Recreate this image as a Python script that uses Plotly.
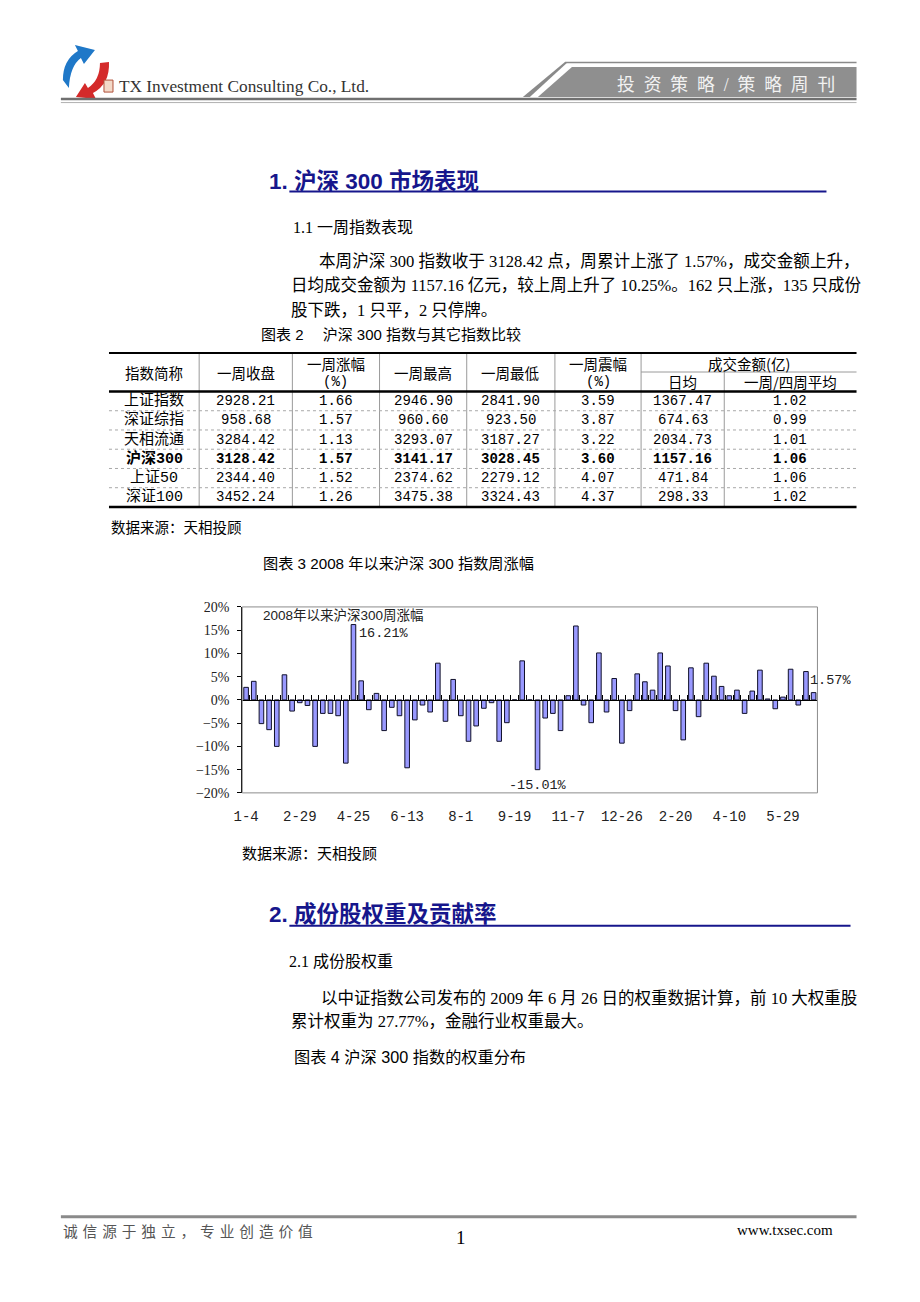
import plotly.graph_objects as go

# page 920x1302; browser body margin of 8px -> figure is 16px smaller
PAGE_W, PAGE_H = 920, 1302
OFF = 8
W, H = PAGE_W - 2 * OFF, PAGE_H - 2 * OFF
# measured mapping between page pixels and photographed pixels (photo = a*page + b)
AX, BX = 0.988, 10.3
AY, BY = 0.9886, 7.0

# ---------------- data ----------------
# weekly change of CSI 300 since 2008 (%)
weekly_chg = [2.7, 4.0, -5.1, -6.4, -10.0, 5.4, -2.4, -0.6, -1.2, -10.0,
              -2.9, -2.9, -3.4, -13.6, 16.21, 4.1, -2.1, 1.4, -6.6, -1.6,
              -3.4, -14.6, -4.3, -1.1, -2.6, 7.9, -4.6, 4.4, -3.4, -8.9,
              -5.6, -1.8, -0.6, -8.9, -4.9, 0.0, 8.4, 0.0, -15.01, -3.9,
              -2.9, -6.6, 0.9, 15.9, -1.1, -4.9, 10.1, -2.6, 4.6, -9.3,
              -2.3, 5.6, 3.9, 2.1, 10.1, 7.3, -2.3, -8.6, 6.9, -3.6,
              7.9, 5.1, 2.9, 0.9, 2.1, -2.9, 1.9, 6.4, 0.2, -1.9,
              0.6, 6.6, -1.1, 6.1, 1.57]
week_tick_labels = ['1-4', '2-29', '4-25', '6-13', '8-1', '9-19', '11-7',
                    '12-26', '2-20', '4-10', '5-29']
tick_every = 7
y_ticks = [20, 15, 10, 5, 0, -5, -10, -15, -20]

# comparison table
idx_names = ['上证指数', '深证综指', '天相流通', '沪深300', '上证50', '深证100']
wk_close = ['2928.21', '958.68', '3284.42', '3128.42', '2344.40', '3452.24']
wk_chg = ['1.66', '1.57', '1.13', '1.57', '1.52', '1.26']
wk_high = ['2946.90', '960.60', '3293.07', '3141.17', '2374.62', '3475.38']
wk_low = ['2841.90', '923.50', '3187.27', '3028.45', '2279.12', '3324.43']
wk_amp = ['3.59', '3.87', '3.22', '3.60', '4.07', '4.37']
amt_daily = ['1367.47', '674.63', '2034.73', '1157.16', '471.84', '298.33']
amt_ratio = ['1.02', '0.99', '1.01', '1.06', '1.06', '1.02']
bold_row = '沪深300'

# ---------------- helpers (target pixel -> paper) ----------------
def fx(p):
    return ((p - BX) / AX - OFF) / W

def fy(p):
    return 1 - ((p - BY) / AY - OFF) / H

CJK = 'Noto Sans CJK SC'
SERIF = 'Liberation Serif, ' + CJK
MONO = 'Liberation Mono, ' + CJK
SANS = 'Liberation Sans, ' + CJK
NAVY = '#16168c'

annotations = []
shapes = []

def txt(x, y, s, size=15, family=SERIF, color='#000000', anchor='left', bold=False):
    annotations.append(dict(x=x, y=y, xref='x2', yref='y2', text=s, showarrow=False,
                            xanchor=anchor, yanchor='middle',
                            font=dict(size=size, family=family, color=color,
                                      weight='bold' if bold else 'normal')))

def hline(x0, x1, y, color='#000000', width=1, dash='solid'):
    shapes.append(dict(type='line', xref='x2', yref='y2', x0=x0, x1=x1, y0=y, y1=y,
                       line=dict(color=color, width=width, dash=dash)))

def vline(x, y0, y1, color='#000000', width=1):
    shapes.append(dict(type='line', xref='x2', yref='y2', x0=x, x1=x, y0=y0, y1=y1,
                       line=dict(color=color, width=width)))

def path(d, fill, line='rgba(0,0,0,0)'):
    shapes.append(dict(type='path', xref='x2', yref='y2', path=d, fillcolor=fill,
                       line=dict(color=line, width=0.5)))

# ---------------- header ----------------
path('M 64 80 Q 64 60 79 51 L 76 45 L 96 50 L 85 64 L 82 58 Q 71 66 70 88 Z', '#1f78c8')
path('M 110 62 Q 111 84 94 93 L 97 99 L 77 97 L 86 83 L 89 88 Q 101 80 101 63 Z', '#d42a2a')
shapes.append(dict(type='rect', xref='x2', yref='y2', x0=105, x1=114, y0=80, y1=92,
                   line=dict(color='#b0503a', width=1), fillcolor='#f3d9c8'))
txt(118, 86, 'TX Investment Consulting Co., Ltd.', size=17.3, family='Liberation Serif', color='#333333')
# parallelogram banner
hline(565, 856, 62.5, color='#8a8a8a', width=1.5)
path('M 565 62 L 568 62 L 530 97 L 523 97 Z', '#8a8a8a')
path('M 572 67 L 856 67 L 856 97 L 538 97 Z', '#8f8f8f')
txt(615, 85, '投\u2002资\u2002策\u2002略\u2002/\u2002策\u2002略\u2002周\u2002刊', size=17.8,
    family=SERIF, color='#f2f2f2')
hline(62, 856, 99, color='#707070', width=2.5)
hline(62, 856, 102.5, color='#b0b0b0', width=1)

# ---------------- section 1 ----------------
txt(268, 181, '1. 沪深 300 市场表现', size=22.5, family=SANS, color=NAVY, bold=True)
hline(290, 826, 191.5, color=NAVY, width=2)
txt(292, 227, '1.1 一周指数表现', size=16, family=SERIF)
txt(318, 261, '本周沪深 300 指数收于 3128.42 点，周累计上涨了 1.57%，成交金额上升，', size=16.6)
txt(290, 285, '日均成交金额为 1157.16 亿元，较上周上升了 10.25%。162 只上涨，135 只成份', size=16.5)
txt(290, 310, '股下跌，1 只平，2 只停牌。', size=16.5)
txt(260, 334, '图表 2\u2003 沪深 300 指数与其它指数比较', size=15, family=SANS)

# ---------------- table ----------------
col_x = [110, 200, 293, 380, 467, 555, 641, 724, 856]
top, head_mid, head_bot, bot = 353, 372, 391.5, 507
n_rows = len(idx_names)
row_h = (bot - head_bot) / n_rows
centers = [(col_x[i] + col_x[i + 1]) / 2 for i in range(len(col_x) - 1)]

for cx in col_x[1:-1]:
    y0 = head_mid if cx == 724 else top
    vline(cx, y0, bot, color='#9a9a9a', width=1)
hline(641, 856, head_mid, color='#9a9a9a', width=1)
for r in range(1, n_rows):
    hline(110, 856, head_bot + r * row_h, color='#a8a8a8', width=1, dash='dot')
hline(110, 856, top, color='#000000', width=2)
hline(110, 856, head_bot, color='#000000', width=2.5)
hline(110, 856, bot, color='#000000', width=2.5)

TF = 'Noto Sans CJK SC'
txt(centers[0], 372, '指数简称', size=14.5, family=TF, anchor='center')
txt(centers[1], 372, '一周收盘', size=14.5, family=TF, anchor='center')
txt(centers[2], 363, '一周涨幅', size=14.5, family=TF, anchor='center')
txt(centers[2], 382, '(%)', size=14, family=MONO, anchor='center')
txt(centers[3], 372, '一周最高', size=14.5, family=TF, anchor='center')
txt(centers[4], 372, '一周最低', size=14.5, family=TF, anchor='center')
txt(centers[5], 363, '一周震幅', size=14.5, family=TF, anchor='center')
txt(centers[5], 382, '(%)', size=14, family=MONO, anchor='center')
txt((641 + 856) / 2, 363, '成交金额(亿)', size=14.5, family=TF, anchor='center')
txt(centers[6], 382, '日均', size=14.5, family=TF, anchor='center')
txt(centers[7], 382, '一周/四周平均', size=14.5, family=TF, anchor='center')

table_cols = [wk_close, wk_chg, wk_high, wk_low, wk_amp, amt_daily, amt_ratio]
for r, name in enumerate(idx_names):
    yc = head_bot + (r + 0.5) * row_h
    b = name == bold_row
    txt(centers[0], yc, name, size=15, family=MONO, anchor='center', bold=b)
    for c, col in enumerate(table_cols):
        txt(centers[c + 1], yc, col[r], size=14, family=MONO, anchor='center', bold=b)

txt(110, 527, '数据来源：天相投顾', size=14.5, family=CJK)

# ---------------- chart ----------------
txt(262, 564, '图表 3 2008 年以来沪深 300 指数周涨幅', size=15.2, family=SANS)
PL, PR, PT, PB = 243, 817, 607, 793
shapes.append(dict(type='rect', xref='x2', yref='y2', x0=PL, x1=PR, y0=PT, y1=PB,
                   line=dict(color='#8c8c8c', width=1), layer='below'))
txt(262, 616, '2008年以来沪深300周涨幅', size=13.5, family=SANS, color='#222222')

n = len(weekly_chg)
xs = list(range(n))
fig = go.Figure()
fig.add_trace(go.Bar(x=xs, y=weekly_chg, width=0.6,
                     marker=dict(color='#9999ff', line=dict(color='#10102a', width=1)),
                     xaxis='x', yaxis='y', hoverinfo='skip', showlegend=False))
fig.add_trace(go.Scatter(x=[], y=[], xaxis='x3', yaxis='y', showlegend=False))
fig.add_trace(go.Scatter(x=[], y=[], xaxis='x2', yaxis='y2', showlegend=False))

imax = weekly_chg.index(max(weekly_chg))
imin = weekly_chg.index(min(weekly_chg))
ilast = n - 1
lab_font = dict(size=13.5, family=MONO, color='#222222')
annotations.append(dict(x=imax, y=weekly_chg[imax], xref='x', yref='y',
                        text=f'{weekly_chg[imax]:.2f}%', showarrow=False,
                        xanchor='left', yanchor='top', xshift=4, yshift=1, font=lab_font))
annotations.append(dict(x=imin, y=weekly_chg[imin], xref='x', yref='y',
                        text=f'{weekly_chg[imin]:.2f}%', showarrow=False,
                        xanchor='center', yanchor='top', yshift=-6, font=lab_font))
annotations.append(dict(x=ilast, y=weekly_chg[ilast], xref='x', yref='y',
                        text=f'{weekly_chg[ilast]:.2f}%', showarrow=False,
                        xanchor='left', yanchor='bottom', xshift=-6, yshift=3, font=lab_font))

txt(241, 853, '数据来源：天相投顾', size=15, family=CJK)

# ---------------- section 2 ----------------
txt(268, 915, '2. 成份股权重及贡献率', size=22.5, family=SANS, color=NAVY, bold=True)
hline(290, 850, 926, color=NAVY, width=2)
txt(288, 962, '2.1 成份股权重', size=16, family=SERIF)
txt(320, 999, '以中证指数公司发布的 2009 年 6 月 26 日的权重数据计算，前 10 大权重股', size=16.5)
txt(290, 1022, '累计权重为 27.77%，金融行业权重最大。', size=16.5)
txt(293, 1057, '图表 4 沪深 300 指数的权重分布', size=16.2, family=SANS)

# ---------------- footer ----------------
hline(62, 856, 1217, color='#8a8a8a', width=3)
txt(62, 1231, '\u2004'.join('诚信源于独立，专业创造价值'), size=14.7, family=CJK, color='#555555')
txt(461, 1238, '1', size=19, family='Liberation Serif', anchor='center')
txt(835, 1230, 'www.txsec.com', size=15, family='Liberation Serif', anchor='right')

# ---------------- layout ----------------
ydom = [fy(PB), fy(PT)]
x2_range = [OFF * AX + BX, (OFF + W) * AX + BX]
y2_range = [(OFF + H) * AY + BY, OFF * AY + BY]
fig.update_layout(
    width=W, height=H, margin=dict(l=0, r=0, t=0, b=0),
    paper_bgcolor='white', plot_bgcolor='rgba(0,0,0,0)',
    showlegend=False, bargap=0.4,
    xaxis=dict(domain=[fx(PL), fx(PR)], range=[-0.5, n - 0.5], anchor='y',
               tickvals=xs[::tick_every], ticktext=week_tick_labels,
               ticks='', showline=False, showgrid=False, zeroline=False,
               tickfont=dict(size=14, family=MONO, color='#222222'),
               ticklabelstandoff=13),
    xaxis3=dict(overlaying='x', anchor='free', position=(ydom[0] + ydom[1]) / 2,
                range=[-0.5, n - 0.5], tickvals=[i + 0.5 for i in range(n - 1)],
                ticks='inside', ticklen=5, tickcolor='#000000', showticklabels=False,
                showline=True, linecolor='#000000', linewidth=1,
                showgrid=False, zeroline=False),
    yaxis=dict(domain=ydom, range=[-20, 20], anchor='x',
               tickvals=y_ticks, ticktext=[f'{v}%'.replace('-', '\u2212') for v in y_ticks],
               ticks='outside', ticklen=4, tickcolor='#000000',
               showline=True, linecolor='#000000', linewidth=1,
               showgrid=False, zeroline=False,
               tickfont=dict(size=14, family='Liberation Serif', color='#222222'),
               ticklabelstandoff=5),
    xaxis2=dict(domain=[0, 1], range=x2_range, anchor='y2', visible=False, fixedrange=True),
    yaxis2=dict(domain=[0, 1], range=y2_range, anchor='x2', visible=False, fixedrange=True),
    annotations=annotations, shapes=shapes,
)

fig.write_html('out.html', config={'displayModeBar': False})
